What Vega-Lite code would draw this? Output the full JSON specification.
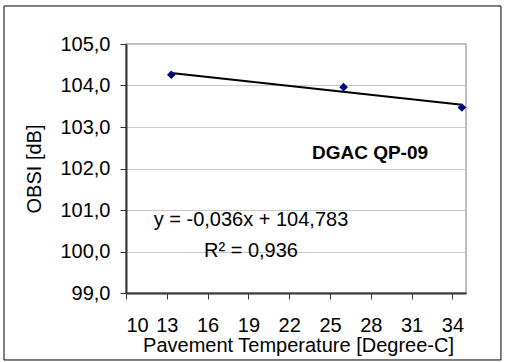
{
  "$schema": "https://vega.github.io/schema/vega-lite/v6.json",
  "width": 340,
  "height": 249,
  "autosize": {"type": "none"},
  "padding": {"left": 126, "top": 44, "right": 41, "bottom": 69},
  "background": "white",
  "config": {
    "font": "Liberation Sans",
    "view": {"stroke": "#a6a6a6", "strokeWidth": 1.5},
    "axis": {
      "labelFont": "Liberation Sans",
      "titleFont": "Liberation Sans",
      "labelColor": "black",
      "titleColor": "black",
      "labelFontSize": 20,
      "titleFontSize": 20,
      "titleFontWeight": "normal",
      "domainColor": "#333333",
      "domainWidth": 2,
      "tickColor": "#333333",
      "tickWidth": 1,
      "tickSize": 6
    }
  },
  "datasets": {
    "points": [
      {"temp": 13.33, "obsi": 104.26},
      {"temp": 26.0, "obsi": 103.96},
      {"temp": 34.7, "obsi": 103.47}
    ],
    "trend": [
      {"temp": 13.33, "obsi": 104.303},
      {"temp": 34.7, "obsi": 103.534}
    ]
  },
  "layer": [
    {
      "data": {"name": "trend"},
      "mark": {"type": "line", "color": "black", "strokeWidth": 2},
      "encoding": {
        "x": {
          "field": "temp",
          "type": "quantitative",
          "scale": {"domain": [10, 35], "nice": false, "zero": false},
          "axis": {
            "title": "Pavement Temperature [Degree-C]",
            "values": [10, 13, 16, 19, 22, 25, 28, 31, 34],
            "format": "d",
            "grid": false,
            "labelBaseline": "alphabetic",
            "labelPadding": 32,
            "titleBaseline": "alphabetic",
            "titleY": 58,
            "titleX": 172
          }
        },
        "y": {
          "field": "obsi",
          "type": "quantitative",
          "scale": {"domain": [99, 105], "nice": false, "zero": false},
          "axis": {
            "title": "OBSI [dB]",
            "values": [99, 100, 101, 102, 103, 104, 105],
            "labelExpr": "replace(format(datum.value, '.1f'), '.', ',')",
            "labelPadding": 10,
            "grid": true,
            "gridColor": "#c8c8c8",
            "gridWidth": 1,
            "titleBaseline": "alphabetic",
            "titleX": -86,
            "titleY": 124.5
          }
        }
      }
    },
    {
      "data": {"name": "points"},
      "mark": {"type": "point", "shape": "diamond", "filled": true, "size": 75, "color": "#000080", "opacity": 1},
      "encoding": {
        "x": {"field": "temp", "type": "quantitative", "title": "Pavement Temperature [Degree-C]"},
        "y": {"field": "obsi", "type": "quantitative", "title": "OBSI [dB]"}
      }
    },
    {
      "data": {"values": [{}]},
      "mark": {"type": "rect", "fill": "transparent", "stroke": "black", "strokeWidth": 1},
      "encoding": {
        "x": {"datum": 1.03, "type": "quantitative", "title": "Pavement Temperature [Degree-C]"},
        "x2": {"datum": 37.57},
        "y": {"datum": 105.916, "type": "quantitative", "title": "OBSI [dB]"},
        "y2": {"datum": 97.386}
      }
    },
    {
      "data": {"values": [{}]},
      "mark": {"type": "text", "fontSize": 20, "align": "center", "baseline": "alphabetic", "color": "black"},
      "encoding": {
        "x": {"datum": 19.19, "type": "quantitative", "title": "Pavement Temperature [Degree-C]"},
        "y": {"datum": 100.614, "type": "quantitative", "title": "OBSI [dB]"},
        "text": {"value": "y = -0,036x + 104,783"}
      }
    },
    {
      "data": {"values": [{}]},
      "mark": {"type": "text", "fontSize": 20, "align": "center", "baseline": "alphabetic", "color": "black"},
      "encoding": {
        "x": {"datum": 19.19, "type": "quantitative", "title": "Pavement Temperature [Degree-C]"},
        "y": {"datum": 99.875, "type": "quantitative", "title": "OBSI [dB]"},
        "text": {"value": "R² = 0,936"}
      }
    },
    {
      "data": {"values": [{}]},
      "mark": {"type": "text", "fontSize": 19, "fontWeight": "bold", "align": "center", "baseline": "alphabetic", "color": "black"},
      "encoding": {
        "x": {"datum": 27.94, "type": "quantitative", "title": "Pavement Temperature [Degree-C]"},
        "y": {"datum": 102.23, "type": "quantitative", "title": "OBSI [dB]"},
        "text": {"value": "DGAC QP-09"}
      }
    }
  ]
}
